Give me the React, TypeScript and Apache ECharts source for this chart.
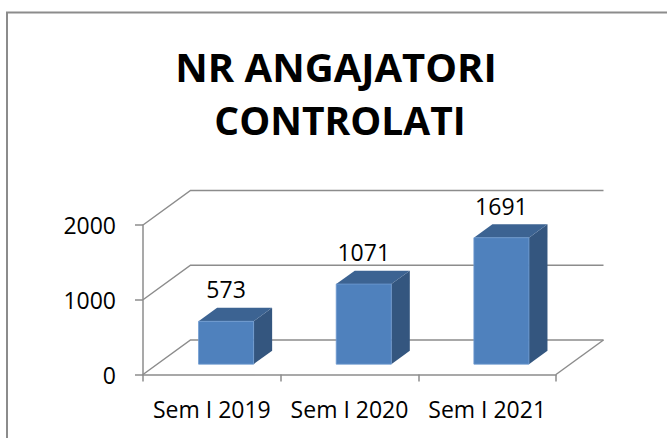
import { useEffect, useRef } from 'react';
import * as echarts from 'echarts';

const categories = ['Sem I 2019', 'Sem I 2020', 'Sem I 2021'];
const values = [573, 1071, 1691];
const yTicks = [0, 1000, 2000];
const titleLines = ['NR ANGAJATORI', 'CONTROLATI'];

const DX = 47.5;
const DY = -34.5;
const GRID_COLOR = '#8c8c8c';
const FONT = '"Open Sans", "DejaVu Sans", sans-serif';

export default function App() {
  const ref = useRef<HTMLDivElement>(null);
  useEffect(() => {
    const chart = echarts.init(ref.current!, null, { renderer: 'svg' });
    chart.setOption({
      animation: false,
      backgroundColor: '#ffffff',
      graphic: [
        {
          type: 'rect',
          silent: true,
          z: 0,
          shape: { x: 7, y: 12.5, width: 720, height: 500 },
          style: { fill: 'none', stroke: '#8c8c8c', lineWidth: 2 },
        },
        {
          type: 'text',
          x: 336,
          y: 66,
          style: {
            text: titleLines[0],
            font: 'bold 40px ' + FONT,
            fill: '#000000',
            textAlign: 'center',
            textVerticalAlign: 'middle',
          },
        },
        {
          type: 'text',
          x: 340,
          y: 119.5,
          style: {
            text: titleLines[1],
            font: 'bold 39px ' + FONT,
            fill: '#000000',
            textAlign: 'center',
            textVerticalAlign: 'middle',
          },
        },
      ],
      grid: { left: 143, right: 111, top: 225, bottom: 63.5 },
      xAxis: {
        type: 'category',
        data: categories,
        axisLine: { show: true, lineStyle: { color: GRID_COLOR, width: 1.5 } },
        axisTick: { show: true, length: 7, lineStyle: { color: GRID_COLOR, width: 1.5 } },
        axisLabel: {
          fontFamily: FONT,
          fontSize: 23,
          color: '#000000',
          margin: 23,
          interval: 0,
          hideOverlap: false,
        },
        splitLine: { show: false },
      },
      yAxis: {
        type: 'value',
        min: 0,
        max: 2000,
        interval: 1000,
        axisLine: { show: true, lineStyle: { color: GRID_COLOR, width: 1.5 } },
        axisTick: { show: true, inside: false, length: 8, lineStyle: { color: GRID_COLOR, width: 1.5 } },
        axisLabel: {
          fontFamily: FONT,
          fontSize: 23,
          color: '#000000',
          margin: 27,
          formatter: (v: number) => String(v),
        },
        splitLine: { show: false },
      },
      series: [
        {
          type: 'custom',
          name: 'grid3d',
          clip: false,
          silent: true,
          z: 1,
          data: yTicks.map((v) => [0, v]),
          renderItem: (params: any, api: any) => {
            const cs = params.coordSys;
            const x0 = cs.x;
            const x1 = cs.x + cs.width;
            const v = api.value(1);
            const y = api.coord([0, v])[1];
            const style = { stroke: GRID_COLOR, lineWidth: 1.5, fill: 'none' };
            const children: any[] = [
              {
                type: 'polyline',
                shape: { points: [[x0, y], [x0 + DX, y + DY], [x1 + DX, y + DY]] },
                style,
              },
            ];
            if (v === 0) {
              children.push({
                type: 'line',
                shape: { x1: x1, y1: y, x2: x1 + DX, y2: y + DY },
                style,
              });
            }
            return { type: 'group', children };
          },
        },
        {
          type: 'custom',
          name: 'NR ANGAJATORI CONTROLATI',
          clip: false,
          z: 2,
          data: values.map((v, i) => [i, v]),
          renderItem: (params: any, api: any) => {
            const idx = api.value(0);
            const v = api.value(1);
            const base = api.coord([idx, 0]);
            const top = api.coord([idx, v]);
            const band = api.size([1, 0])[0];
            const w = band * 0.4;
            const cx = base[0] + DX * 0.3;
            const B = base[1] + DY * 0.3;
            const T = B - (base[1] - top[1]);
            const L = cx - w / 2;
            const R = cx + w / 2;
            const bdx = DX * 0.39;
            const bdy = DY * 0.39;
            return {
              type: 'group',
              children: [
                {
                  type: 'polygon',
                  shape: { points: [[R, T], [R + bdx, T + bdy], [R + bdx, B + bdy], [R, B]] },
                  style: { fill: '#34567f' },
                },
                {
                  type: 'polygon',
                  shape: { points: [[L, T], [R, T], [R + bdx, T + bdy], [L + bdx, T + bdy]] },
                  style: { fill: '#3c6392' },
                },
                {
                  type: 'rect',
                  shape: { x: L, y: T, width: w, height: B - T },
                  style: { fill: '#4f81bd', stroke: '#6f9ad0', lineWidth: 0.8 },
                },
                {
                  type: 'text',
                  x: cx,
                  y: T - 32,
                  style: {
                    text: String(v),
                    font: '23px ' + FONT,
                    fill: '#000000',
                    textAlign: 'center',
                    textVerticalAlign: 'middle',
                  },
                },
              ],
            };
          },
        },
      ],
    });
    return () => chart.dispose();
  }, []);
  return (
    <div
      ref={ref}
      style={{ position: 'fixed', left: 0, top: 0, width: 667, height: 438 }}
    />
  );
}
